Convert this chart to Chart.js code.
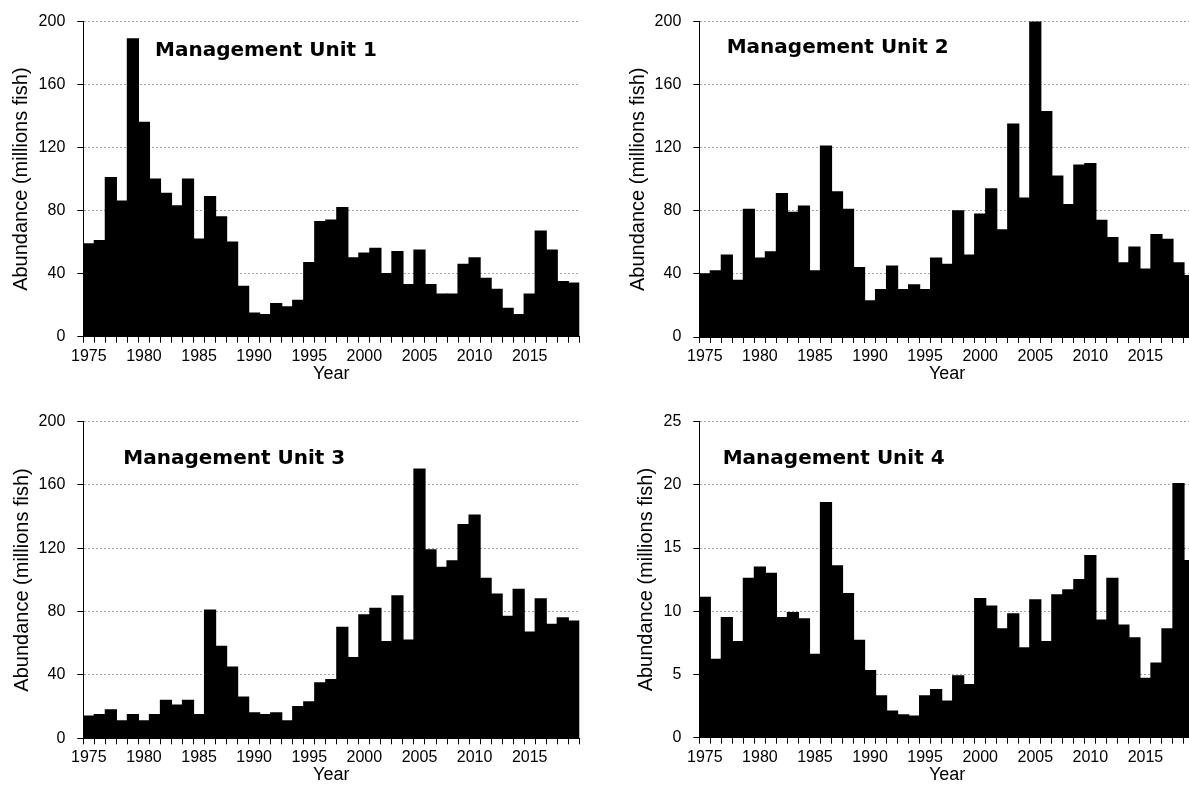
<!DOCTYPE html>
<html><head><meta charset="utf-8">
<script src="https://cdn.jsdelivr.net/npm/chart.js@4.4.1/dist/chart.umd.min.js"></script>
<style>
html,body{margin:0;padding:0;background:#fff;overflow:hidden;width:1189px;height:788px;position:relative;}
canvas{position:absolute;}
</style></head><body>
<canvas id="c1" width="595" height="395" style="left:0px;top:0px"></canvas>
<canvas id="c2" width="600" height="395" style="left:600px;top:0px"></canvas>
<canvas id="c3" width="595" height="388" style="left:0px;top:400px"></canvas>
<canvas id="c4" width="600" height="388" style="left:600px;top:400px"></canvas>
<script>
const years = [1975,1976,1977,1978,1979,1980,1981,1982,1983,1984,1985,1986,1987,1988,1989,1990,1991,1992,1993,1994,1995,1996,1997,1998,1999,2000,2001,2002,2003,2004,2005,2006,2007,2008,2009,2010,2011,2012,2013,2014,2015,2016,2017,2018,2019];
const mu1 = [59,61,101,86,189,136,100,91,83,100,62,89,76,60,32,15,14,21,19,23,47,73,74,82,50,53,56,40,54,33,55,33,27,27,46,50,37,30,18,14,27,67,55,35,34];
const mu2 = [40,42,52,36,81,50,54,91,79,83,42,121,92,81,44,23,30,45,30,33,30,50,46,80,52,78,94,68,135,88,200,143,102,84,109,110,74,63,47,57,43,65,62,47,39];
const mu3 = [14,15,18,11,15,11,15,24,21,24,15,81,58,45,26,16,15,16,11,20,23,35,37,70,51,78,82,61,90,62,170,119,108,112,135,141,101,91,77,94,67,88,72,76,74];
const mu4 = [11.1,6.2,9.5,7.6,12.6,13.5,13.0,9.5,9.9,9.4,6.6,18.6,13.6,11.4,7.7,5.3,3.3,2.1,1.8,1.7,3.3,3.8,2.9,4.9,4.2,11.0,10.4,8.6,9.8,7.1,10.9,7.6,11.3,11.7,12.5,14.4,9.3,12.6,8.9,7.9,4.7,5.9,8.6,20.1,14.0];
const titles = ['Management Unit 1','Management Unit 2','Management Unit 3','Management Unit 4'];
const yMax = [200,200,200,25];
const yStep = [40,40,40,5];
const xTitle = 'Year';
const yTitle = 'Abundance (millions fish)';

const FONT = '"Liberation Sans", Arial, sans-serif';

const panelTitle = {
  id: 'panelTitle',
  afterDraw(chart, args, opts) {
    const {ctx, chartArea} = chart;
    ctx.save();
    ctx.font = 'bold 20px "DejaVu Sans", Verdana, sans-serif';
    ctx.fillStyle = '#000';
    ctx.textAlign = 'left';
    ctx.textBaseline = 'alphabetic';
    ctx.fillText(opts.text, chartArea.left + opts.dx, chartArea.top + opts.dy);
    ctx.restore();
  }
};

const layouts = [
  {id:'c1', yWidth:83.3, xHeight:58.3, pad:{left:0, top:18.3, right:15.7, bottom:0}, yTitlePad:9.7, xTitlePad:10.5, dx:71.7, dy:34},
  {id:'c2', yWidth:99.3, xHeight:58, pad:{left:0, top:20, right:5, bottom:0}, yTitlePad:26.3, xTitlePad:10.5, dx:27.4, dy:31.7},
  {id:'c3', yWidth:83.3, xHeight:49.7, pad:{left:0, top:20, right:15.7, bottom:0}, yTitlePad:10.3, xTitlePad:2.5, dx:40, dy:42.3},
  {id:'c4', yWidth:99.3, xHeight:50.3, pad:{left:0, top:20, right:5, bottom:0}, yTitlePad:34.7, xTitlePad:2.5, dx:23.4, dy:42.3}
];
const series = [mu1, mu2, mu3, mu4];

layouts.forEach((p, k) => {
  new Chart(document.getElementById(p.id), {
    type: 'bar',
    data: {
      labels: years,
      datasets: [{data: series[k], backgroundColor: '#000', borderWidth: 0, inflateAmount: 0.6, categoryPercentage: 1, barPercentage: 1}]
    },
    options: {
      responsive: false, animation: false, devicePixelRatio: 1,
      layout: {padding: p.pad},
      plugins: {legend: {display: false}, tooltip: {enabled: false}, panelTitle: {text: titles[k], dx: p.dx, dy: p.dy}},
      scales: {
        x: {
          grid: {offset: true, drawOnChartArea: false, tickLength: 6, tickColor: '#000', color: '#000'},
          border: {color: '#000', width: 1},
          ticks: {autoSkip: false, maxRotation: 0, minRotation: 0, padding: 4, color: '#000',
                  font: {family: FONT, size: 16},
                  callback: (v, i) => (years[i] % 5 === 0 ? String(years[i]) : '')},
          title: {display: true, text: xTitle, color: '#000', font: {family: FONT, size: 18}, padding: {top: 0, bottom: p.xTitlePad}},
          afterFit: (s) => { s.height = p.xHeight; }
        },
        y: {
          min: 0, max: yMax[k],
          grid: {color: '#a0a0a0', tickLength: 6, tickColor: '#000', lineWidth: 1},
          border: {color: '#000', width: 1, dash: [2, 2]},
          ticks: {stepSize: yStep[k], padding: 12, color: '#000', font: {family: FONT, size: 16}},
          title: {display: true, text: yTitle, color: '#000', font: {family: FONT, size: 20}, padding: {top: p.yTitlePad, bottom: 0}},
          afterFit: (s) => { s.width = p.yWidth; }
        }
      }
    },
    plugins: [panelTitle]
  });
});
</script>
</body></html>
